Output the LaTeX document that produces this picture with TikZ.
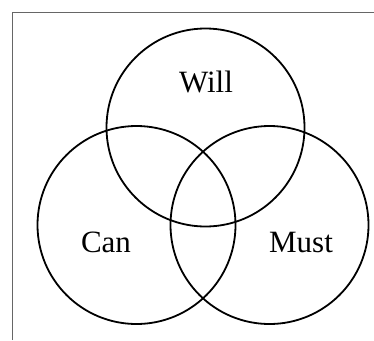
\documentclass[tikz,border=0pt]{standalone}
\usepackage{fontspec}
\setmainfont{Liberation Serif}
\usepackage{tikz}
\usetikzlibrary{positioning}

\begin{document}
\begin{tikzpicture}[
    x=1pt, y=-1pt,
    set/.style={draw, circle, line width=1.8pt, minimum size=198pt,
                inner sep=0pt, outer sep=0pt},
    word/.style={font=\fontsize{31}{36}\selectfont, inner sep=0pt},
    frame/.style={draw=black!60, line width=1pt}
]
    \useasboundingbox (0,0) rectangle (374,340);

    % border lines
    \coordinate (corner) at (12,12);
    \coordinate (topend) at (374,12);
    \coordinate (leftend) at (12,340);
    \draw[frame] (leftend) -- (corner) -- (topend);

    % the three sets
    \node[set] (will) at (205.5,127.5) {};
    \node[set] (can) at (136.5,225) {};
    \node[set] (must) at (269.5,225) {};

    \node[word] (willtext) at (206,82) {Will};
    \node[word] (cantext) at (106,242) {Can};
    \node[word] (musttext) at (301,242) {Must};
\end{tikzpicture}
\end{document}
